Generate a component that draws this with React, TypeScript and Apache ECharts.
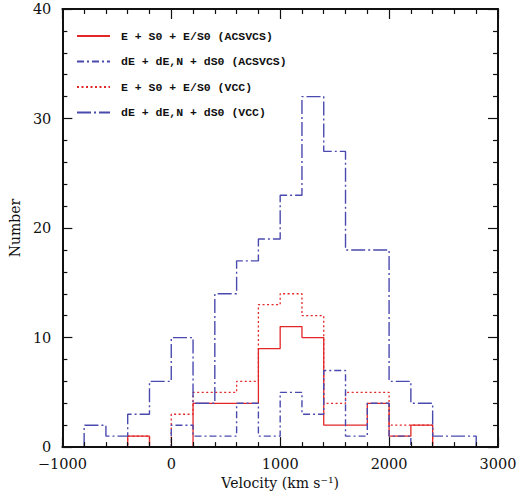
import React, { useEffect, useRef } from "react";
import * as echarts from "echarts";

// Histogram bin edges (km/s)
const binEdges = [-1000, -800, -600, -400, -200, 0, 200, 400, 600, 800, 1000, 1200, 1400, 1600, 1800, 2000, 2200, 2400, 2600, 2800, 3000];
// Counts per bin
const giantsACSVCS = [0, 0, 0, 1, 0, 0, 4, 4, 4, 9, 11, 10, 2, 2, 4, 1, 2, 0, 0, 0];
const dwarfsACSVCS = [0, 0, 0, 0, 0, 2, 1, 1, 4, 1, 5, 3, 7, 1, 4, 1, 0, 0, 0, 0];
const giantsVCC = [0, 0, 0, 1, 0, 3, 5, 5, 6, 13, 14, 12, 4, 5, 5, 2, 2, 0, 0, 0];
const dwarfsVCC = [0, 2, 1, 3, 6, 10, 4, 14, 17, 19, 23, 32, 27, 18, 18, 6, 4, 1, 1, 0];

const seriesNames = [
  "E + S0 + E/S0 (ACSVCS)",
  "dE + dE,N + dS0 (ACSVCS)",
  "E + S0 + E/S0 (VCC)",
  "dE + dE,N + dS0 (VCC)",
];

const xMin = -1000;
const xMax = 3000;
const yMin = 0;
const yMax = 40;

function histPoints(values: number[]): number[][] {
  const pts: number[][] = [];
  let prev = 0;
  for (let i = 0; i < values.length; i++) {
    pts.push([binEdges[i], prev]);
    pts.push([binEdges[i], values[i]]);
    prev = values[i];
  }
  pts.push([binEdges[values.length], prev]);
  pts.push([binEdges[values.length], 0]);
  return pts;
}

const RED = "#e32626";
const NAVY = "#4a4aae";
const LABEL_FONT = "DejaVu Serif";

export default function App() {
  const ref = useRef<HTMLDivElement>(null);
  useEffect(() => {
    document.body.style.margin = "0";
    if (!ref.current) return;
    const chart = echarts.init(ref.current, null, { renderer: "svg" });

    const axisCommon = {
      type: "value" as const,
      axisLine: { show: true, onZero: false, lineStyle: { color: "#111", width: 2 } },
      axisTick: { show: true, inside: true, length: 10, lineStyle: { color: "#111", width: 1.2 } },
      minorTick: { show: true, splitNumber: 5, length: 5, lineStyle: { color: "#111", width: 1.2 } },
      splitLine: { show: false },
      z: 10,
    };

    const option: any = {
      animation: false,
      backgroundColor: "#fff",
      grid: { left: 59, right: 27, top: 9, bottom: 45 },
      legend: {
        orient: "vertical",
        left: 76,
        top: 30,
        padding: 0,
        itemWidth: 33,
        itemHeight: 14,
        itemGap: 13.5,
        data: seriesNames,
        itemStyle: { opacity: 0 },
        textStyle: {
          fontFamily: "Liberation Mono",
          fontWeight: "bold",
          fontSize: 11.5,
          color: "#111",
          padding: [0, 0, 0, 6],
        },
      },
      xAxis: [
        {
          ...axisCommon,
          position: "bottom",
          min: xMin,
          max: xMax,
          interval: 1000,
          axisLabel: {
            fontFamily: LABEL_FONT,
            fontSize: 14.5,
            color: "#111",
            margin: 9,
            formatter: (v: number) => String(v).replace("-", "\u2212"),
          },
          name: "Velocity (km s\u207B\u00B9)",
          nameLocation: "middle",
          nameGap: 27,
          nameTextStyle: { fontFamily: LABEL_FONT, fontSize: 14, color: "#111" },
        },
        {
          ...axisCommon,
          position: "top",
          min: xMin,
          max: xMax,
          interval: 1000,
          axisLabel: { show: false },
        },
      ],
      yAxis: [
        {
          ...axisCommon,
          position: "left",
          min: yMin,
          max: yMax,
          interval: 10,
          axisLabel: { fontFamily: LABEL_FONT, fontSize: 14.5, color: "#111", margin: 11 },
          name: "Number",
          nameLocation: "middle",
          nameGap: 37,
          nameTextStyle: { fontFamily: LABEL_FONT, fontSize: 14, color: "#111" },
        },
        {
          ...axisCommon,
          position: "right",
          min: yMin,
          max: yMax,
          interval: 10,
          axisLabel: { show: false },
        },
      ],
      series: [
        {
          name: seriesNames[0],
          type: "line",
          symbol: "none",
          data: histPoints(giantsACSVCS),
          lineStyle: { color: RED, width: 1.3, type: "solid" },
          itemStyle: { color: RED },
          z: 2,
        },
        {
          name: seriesNames[2],
          type: "line",
          symbol: "none",
          data: histPoints(giantsVCC),
          lineStyle: { color: RED, width: 1.3, type: [2, 2.5] },
          itemStyle: { color: RED },
          z: 3,
        },
        {
          name: seriesNames[1],
          type: "line",
          symbol: "none",
          data: histPoints(dwarfsACSVCS),
          lineStyle: { color: NAVY, width: 1.4, type: [7, 3, 2, 3] },
          itemStyle: { color: NAVY },
          z: 4,
        },
        {
          name: seriesNames[3],
          type: "line",
          symbol: "none",
          data: histPoints(dwarfsVCC),
          lineStyle: { color: NAVY, width: 1.4, type: [14, 3, 2, 3] },
          itemStyle: { color: NAVY },
          z: 5,
        },
      ],
    };
    chart.setOption(option);
    return () => chart.dispose();
  }, []);
  return <div ref={ref} style={{ width: 525, height: 495 }} />;
}
